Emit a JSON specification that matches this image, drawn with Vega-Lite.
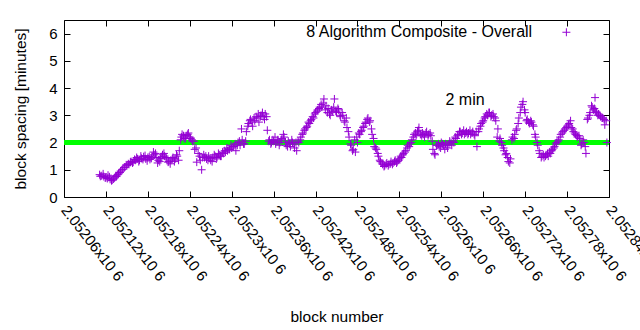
{
"$schema": "https://vega.github.io/schema/vega-lite/v6.json",
"width": 545, "height": 177,
"autosize": {"type": "none"},
"padding": {"left": 64, "top": 20, "right": 31, "bottom": 133},
"background": "white",
"config": {
  "font": "Liberation Sans",
  "view": {"stroke": "black", "strokeWidth": 1},
  "axis": {"grid": false, "domain": false, "tickColor": "black", "tickSize": -6, "tickWidth": 1, "labelColor": "black", "labelFont": "Liberation Sans", "labelFontSize": 15, "titleFont": "Liberation Sans", "titleFontSize": 15.5, "titleFontWeight": "normal", "titleColor": "black"}
},
"datasets": {"blocks": [
{"b":2052111,"v":0.82},{"b":2052112,"v":0.76},{"b":2052114,"v":0.78},{"b":2052116,"v":0.85},{"b":2052117,"v":0.75},{"b":2052119,"v":0.7},{"b":2052120,"v":0.72},{"b":2052122,"v":0.68},{"b":2052123,"v":0.8},{"b":2052125,"v":0.74},{"b":2052126,"v":0.65},{"b":2052128,"v":0.6},{"b":2052129,"v":0.62},{"b":2052131,"v":0.66},{"b":2052132,"v":0.7},{"b":2052134,"v":0.78},{"b":2052135,"v":0.75},{"b":2052137,"v":0.82},{"b":2052138,"v":0.85},{"b":2052140,"v":0.9},{"b":2052141,"v":0.95},{"b":2052143,"v":1.0},{"b":2052144,"v":1.02},{"b":2052146,"v":1.08},{"b":2052147,"v":1.1},{"b":2052149,"v":1.18},{"b":2052150,"v":1.15},{"b":2052152,"v":1.22},{"b":2052153,"v":1.2},{"b":2052155,"v":1.28},{"b":2052156,"v":1.3},{"b":2052158,"v":1.25},{"b":2052159,"v":1.28},{"b":2052161,"v":1.38},{"b":2052162,"v":1.35},{"b":2052164,"v":1.45},{"b":2052165,"v":1.4},{"b":2052167,"v":1.3},{"b":2052168,"v":1.35},{"b":2052170,"v":1.5},{"b":2052171,"v":1.42},{"b":2052173,"v":1.38},{"b":2052174,"v":1.48},{"b":2052176,"v":1.52},{"b":2052177,"v":1.4},{"b":2052179,"v":1.33},{"b":2052180,"v":1.45},{"b":2052182,"v":1.48},{"b":2052183,"v":1.38},{"b":2052185,"v":1.42},{"b":2052186,"v":1.5},{"b":2052188,"v":1.65},{"b":2052189,"v":1.55},{"b":2052191,"v":1.6},{"b":2052192,"v":1.45},{"b":2052194,"v":1.25},{"b":2052195,"v":1.35},{"b":2052197,"v":1.3},{"b":2052198,"v":1.42},{"b":2052200,"v":1.48},{"b":2052201,"v":1.55},{"b":2052203,"v":1.6},{"b":2052204,"v":1.5},{"b":2052206,"v":1.45},{"b":2052207,"v":1.4},{"b":2052209,"v":1.28},{"b":2052210,"v":1.3},{"b":2052212,"v":1.22},{"b":2052213,"v":1.35},{"b":2052215,"v":1.4},{"b":2052216,"v":1.45},{"b":2052218,"v":1.3},{"b":2052219,"v":1.4},{"b":2052221,"v":1.55},{"b":2052222,"v":1.5},{"b":2052224,"v":1.35},{"b":2052225,"v":1.7},{"b":2052227,"v":2.1},{"b":2052228,"v":2.2},{"b":2052229,"v":2.3},{"b":2052231,"v":2.25},{"b":2052232,"v":2.15},{"b":2052234,"v":2.15},{"b":2052235,"v":2.25},{"b":2052237,"v":2.3},{"b":2052238,"v":2.35},{"b":2052240,"v":2.2},{"b":2052241,"v":2.15},{"b":2052243,"v":2.1},{"b":2052244,"v":2.05},{"b":2052246,"v":2.05},{"b":2052247,"v":1.75},{"b":2052249,"v":1.8},{"b":2052250,"v":1.28},{"b":2052252,"v":1.6},{"b":2052254,"v":1.5},{"b":2052255,"v":1.35},{"b":2052257,"v":1.0},{"b":2052258,"v":1.45},{"b":2052260,"v":1.55},{"b":2052261,"v":1.45},{"b":2052263,"v":1.5},{"b":2052264,"v":1.4},{"b":2052266,"v":1.35},{"b":2052267,"v":1.5},{"b":2052269,"v":1.42},{"b":2052270,"v":1.35},{"b":2052272,"v":1.3},{"b":2052273,"v":1.45},{"b":2052275,"v":1.55},{"b":2052276,"v":1.5},{"b":2052278,"v":1.4},{"b":2052279,"v":1.45},{"b":2052281,"v":1.6},{"b":2052282,"v":1.55},{"b":2052284,"v":1.5},{"b":2052285,"v":1.5},{"b":2052287,"v":1.65},{"b":2052288,"v":1.6},{"b":2052290,"v":1.7},{"b":2052291,"v":1.65},{"b":2052293,"v":1.8},{"b":2052294,"v":1.7},{"b":2052296,"v":1.75},{"b":2052297,"v":1.75},{"b":2052299,"v":1.9},{"b":2052300,"v":1.8},{"b":2052302,"v":1.85},{"b":2052303,"v":1.85},{"b":2052305,"v":1.95},{"b":2052306,"v":1.7},{"b":2052308,"v":1.9},{"b":2052309,"v":2.0},{"b":2052311,"v":2.05},{"b":2052312,"v":1.9},{"b":2052314,"v":2.5},{"b":2052315,"v":2.1},{"b":2052317,"v":1.95},{"b":2052318,"v":1.95},{"b":2052320,"v":2.05},{"b":2052321,"v":2.4},{"b":2052323,"v":2.6},{"b":2052324,"v":2.7},{"b":2052326,"v":2.8},{"b":2052327,"v":2.85},{"b":2052329,"v":2.75},{"b":2052330,"v":2.6},{"b":2052332,"v":2.9},{"b":2052333,"v":2.8},{"b":2052335,"v":2.95},{"b":2052336,"v":2.9},{"b":2052338,"v":3.05},{"b":2052339,"v":2.75},{"b":2052341,"v":2.95},{"b":2052342,"v":3.0},{"b":2052344,"v":3.1},{"b":2052345,"v":2.95},{"b":2052347,"v":2.85},{"b":2052348,"v":3.05},{"b":2052350,"v":2.95},{"b":2052351,"v":2.45},{"b":2052353,"v":2.05},{"b":2052354,"v":2.1},{"b":2052356,"v":1.95},{"b":2052357,"v":2.0},{"b":2052359,"v":2.1},{"b":2052360,"v":2.05},{"b":2052362,"v":2.2},{"b":2052363,"v":1.95},{"b":2052365,"v":2.05},{"b":2052366,"v":2.1},{"b":2052368,"v":1.9},{"b":2052369,"v":2.0},{"b":2052371,"v":2.1},{"b":2052372,"v":2.15},{"b":2052374,"v":2.3},{"b":2052375,"v":2.2},{"b":2052377,"v":2.0},{"b":2052378,"v":1.9},{"b":2052380,"v":1.85},{"b":2052381,"v":2.05},{"b":2052383,"v":1.95},{"b":2052384,"v":1.85},{"b":2052386,"v":2.1},{"b":2052387,"v":2.0},{"b":2052389,"v":1.95},{"b":2052390,"v":1.8},{"b":2052392,"v":2.0},{"b":2052393,"v":1.7},{"b":2052395,"v":2.05},{"b":2052396,"v":2.0},{"b":2052398,"v":2.1},{"b":2052399,"v":2.2},{"b":2052401,"v":2.3},{"b":2052402,"v":2.35},{"b":2052404,"v":2.45},{"b":2052405,"v":2.5},{"b":2052407,"v":2.55},{"b":2052408,"v":2.6},{"b":2052410,"v":2.75},{"b":2052411,"v":2.7},{"b":2052413,"v":2.8},{"b":2052414,"v":2.85},{"b":2052416,"v":2.95},{"b":2052417,"v":2.9},{"b":2052419,"v":3.05},{"b":2052420,"v":3.1},{"b":2052422,"v":3.15},{"b":2052423,"v":3.2},{"b":2052425,"v":3.25},{"b":2052426,"v":3.3},{"b":2052428,"v":3.4},{"b":2052429,"v":3.3},{"b":2052431,"v":3.45},{"b":2052432,"v":3.6},{"b":2052434,"v":3.2},{"b":2052435,"v":3.35},{"b":2052437,"v":3.1},{"b":2052438,"v":3.25},{"b":2052440,"v":3.05},{"b":2052441,"v":3.0},{"b":2052443,"v":3.2},{"b":2052444,"v":3.15},{"b":2052446,"v":3.3},{"b":2052447,"v":3.6},{"b":2052449,"v":3.15},{"b":2052450,"v":3.1},{"b":2052452,"v":3.25},{"b":2052453,"v":3.2},{"b":2052455,"v":3.0},{"b":2052456,"v":2.95},{"b":2052458,"v":3.1},{"b":2052459,"v":3.0},{"b":2052461,"v":2.8},{"b":2052462,"v":2.75},{"b":2052464,"v":2.9},{"b":2052465,"v":2.55},{"b":2052467,"v":2.4},{"b":2052468,"v":2.2},{"b":2052470,"v":1.95},{"b":2052471,"v":1.9},{"b":2052473,"v":1.7},{"b":2052474,"v":1.75},{"b":2052476,"v":2.1},{"b":2052477,"v":1.65},{"b":2052479,"v":2.2},{"b":2052480,"v":2.0},{"b":2052482,"v":2.35},{"b":2052483,"v":2.3},{"b":2052485,"v":2.4},{"b":2052486,"v":2.45},{"b":2052488,"v":2.55},{"b":2052489,"v":2.6},{"b":2052491,"v":2.7},{"b":2052492,"v":2.75},{"b":2052494,"v":2.85},{"b":2052495,"v":2.9},{"b":2052497,"v":2.75},{"b":2052498,"v":2.8},{"b":2052500,"v":2.5},{"b":2052501,"v":2.3},{"b":2052503,"v":2.15},{"b":2052504,"v":1.85},{"b":2052506,"v":1.8},{"b":2052507,"v":1.75},{"b":2052509,"v":1.6},{"b":2052510,"v":1.5},{"b":2052512,"v":1.35},{"b":2052513,"v":1.3},{"b":2052515,"v":1.25},{"b":2052516,"v":1.2},{"b":2052518,"v":1.12},{"b":2052519,"v":1.15},{"b":2052521,"v":1.2},{"b":2052522,"v":1.25},{"b":2052524,"v":1.15},{"b":2052525,"v":1.2},{"b":2052527,"v":1.22},{"b":2052528,"v":1.3},{"b":2052530,"v":1.2},{"b":2052531,"v":1.25},{"b":2052533,"v":1.3},{"b":2052534,"v":1.35},{"b":2052536,"v":1.25},{"b":2052537,"v":1.3},{"b":2052539,"v":1.35},{"b":2052540,"v":1.4},{"b":2052542,"v":1.5},{"b":2052543,"v":1.45},{"b":2052545,"v":1.55},{"b":2052546,"v":1.6},{"b":2052548,"v":1.65},{"b":2052549,"v":1.7},{"b":2052551,"v":1.8},{"b":2052552,"v":1.9},{"b":2052554,"v":1.85},{"b":2052555,"v":1.95},{"b":2052557,"v":2.0},{"b":2052558,"v":2.1},{"b":2052560,"v":2.2},{"b":2052561,"v":2.3},{"b":2052563,"v":2.35},{"b":2052564,"v":2.25},{"b":2052566,"v":2.4},{"b":2052567,"v":2.45},{"b":2052568,"v":2.55},{"b":2052570,"v":2.3},{"b":2052572,"v":2.25},{"b":2052573,"v":2.35},{"b":2052575,"v":2.3},{"b":2052576,"v":2.2},{"b":2052578,"v":2.35},{"b":2052579,"v":2.4},{"b":2052581,"v":2.25},{"b":2052582,"v":2.3},{"b":2052584,"v":2.35},{"b":2052585,"v":2.25},{"b":2052587,"v":2.05},{"b":2052588,"v":1.75},{"b":2052590,"v":1.6},{"b":2052591,"v":1.55},{"b":2052593,"v":1.9},{"b":2052594,"v":1.9},{"b":2052596,"v":1.95},{"b":2052597,"v":1.85},{"b":2052599,"v":1.8},{"b":2052600,"v":2.0},{"b":2052602,"v":1.95},{"b":2052603,"v":1.9},{"b":2052605,"v":1.75},{"b":2052606,"v":1.95},{"b":2052608,"v":1.9},{"b":2052609,"v":1.8},{"b":2052611,"v":1.95},{"b":2052612,"v":2.05},{"b":2052614,"v":2.0},{"b":2052615,"v":1.9},{"b":2052617,"v":2.05},{"b":2052618,"v":2.0},{"b":2052620,"v":2.2},{"b":2052621,"v":2.15},{"b":2052623,"v":2.25},{"b":2052624,"v":2.3},{"b":2052626,"v":2.4},{"b":2052627,"v":2.4},{"b":2052629,"v":2.3},{"b":2052630,"v":2.35},{"b":2052632,"v":2.45},{"b":2052633,"v":2.3},{"b":2052635,"v":2.35},{"b":2052636,"v":2.4},{"b":2052638,"v":2.3},{"b":2052639,"v":2.35},{"b":2052641,"v":2.45},{"b":2052642,"v":2.3},{"b":2052644,"v":2.35},{"b":2052645,"v":2.4},{"b":2052647,"v":2.3},{"b":2052648,"v":2.25},{"b":2052650,"v":2.4},{"b":2052651,"v":1.85},{"b":2052653,"v":2.4},{"b":2052654,"v":2.5},{"b":2052656,"v":2.6},{"b":2052657,"v":2.7},{"b":2052659,"v":2.75},{"b":2052660,"v":2.8},{"b":2052662,"v":2.9},{"b":2052663,"v":2.95},{"b":2052665,"v":3.05},{"b":2052666,"v":3.0},{"b":2052668,"v":3.1},{"b":2052669,"v":3.1},{"b":2052671,"v":2.95},{"b":2052672,"v":3.0},{"b":2052674,"v":3.05},{"b":2052675,"v":2.95},{"b":2052677,"v":2.9},{"b":2052678,"v":2.8},{"b":2052680,"v":2.2},{"b":2052681,"v":2.5},{"b":2052683,"v":2.05},{"b":2052684,"v":2.15},{"b":2052686,"v":2.0},{"b":2052687,"v":1.9},{"b":2052689,"v":1.8},{"b":2052690,"v":1.7},{"b":2052692,"v":1.55},{"b":2052693,"v":1.6},{"b":2052695,"v":1.45},{"b":2052696,"v":1.3},{"b":2052698,"v":1.25},{"b":2052699,"v":1.4},{"b":2052701,"v":2.1},{"b":2052702,"v":2.2},{"b":2052704,"v":2.15},{"b":2052705,"v":2.3},{"b":2052707,"v":2.45},{"b":2052708,"v":2.5},{"b":2052710,"v":2.7},{"b":2052711,"v":2.9},{"b":2052713,"v":3.1},{"b":2052714,"v":3.3},{"b":2052716,"v":3.4},{"b":2052717,"v":3.5},{"b":2052719,"v":3.2},{"b":2052720,"v":3.1},{"b":2052722,"v":2.8},{"b":2052723,"v":2.85},{"b":2052725,"v":2.75},{"b":2052726,"v":2.7},{"b":2052728,"v":2.8},{"b":2052729,"v":2.75},{"b":2052731,"v":2.65},{"b":2052732,"v":2.6},{"b":2052734,"v":2.3},{"b":2052735,"v":2.2},{"b":2052737,"v":2.0},{"b":2052738,"v":1.9},{"b":2052740,"v":1.7},{"b":2052741,"v":1.6},{"b":2052743,"v":1.45},{"b":2052744,"v":1.5},{"b":2052746,"v":1.55},{"b":2052747,"v":1.45},{"b":2052749,"v":1.5},{"b":2052750,"v":1.55},{"b":2052752,"v":1.6},{"b":2052753,"v":1.5},{"b":2052755,"v":1.65},{"b":2052756,"v":1.6},{"b":2052758,"v":1.7},{"b":2052759,"v":1.75},{"b":2052761,"v":1.8},{"b":2052762,"v":1.85},{"b":2052764,"v":1.95},{"b":2052765,"v":2.0},{"b":2052767,"v":2.05},{"b":2052768,"v":2.1},{"b":2052770,"v":2.2},{"b":2052771,"v":2.3},{"b":2052773,"v":2.35},{"b":2052774,"v":2.4},{"b":2052776,"v":2.45},{"b":2052777,"v":2.5},{"b":2052779,"v":2.55},{"b":2052780,"v":2.6},{"b":2052782,"v":2.65},{"b":2052783,"v":2.7},{"b":2052785,"v":2.8},{"b":2052786,"v":2.55},{"b":2052788,"v":2.5},{"b":2052789,"v":2.4},{"b":2052791,"v":2.35},{"b":2052792,"v":2.3},{"b":2052794,"v":2.25},{"b":2052795,"v":2.2},{"b":2052797,"v":2.25},{"b":2052798,"v":2.15},{"b":2052800,"v":1.9},{"b":2052801,"v":1.95},{"b":2052803,"v":2.1},{"b":2052804,"v":2.0},{"b":2052806,"v":1.85},{"b":2052807,"v":1.6},{"b":2052809,"v":2.85},{"b":2052810,"v":2.9},{"b":2052812,"v":3.0},{"b":2052813,"v":3.1},{"b":2052815,"v":3.35},{"b":2052816,"v":3.3},{"b":2052818,"v":3.2},{"b":2052819,"v":3.25},{"b":2052820,"v":3.65},{"b":2052821,"v":3.15},{"b":2052822,"v":3.1},{"b":2052824,"v":3.0},{"b":2052825,"v":3.05},{"b":2052827,"v":3.0},{"b":2052828,"v":2.95},{"b":2052830,"v":2.9},{"b":2052831,"v":2.9},{"b":2052833,"v":2.85},{"b":2052834,"v":2.65},{"b":2052836,"v":2.8},{"b":2052837,"v":2.0}
]},
"layer": [
  {
    "data": {"values": [{}]},
    "mark": {"type": "rule", "color": "#00ff00", "strokeWidth": 5},
    "encoding": {
      "y": {"datum": 2, "type": "quantitative", "scale": {"domain": [0, 6.5], "nice": false},
            "axis": {"orient": "right", "labels": false, "title": null, "values": [0,1,2,3,4,5,6]}}
    }
  },
  {
    "data": {"name": "blocks"},
    "mark": {"type": "point", "shape": "M-1,0H1M0,-1V1", "size": 64, "strokeWidth": 1, "color": "#9400d3", "filled": false, "opacity": 1},
    "encoding": {
      "x": {"field": "b", "type": "quantitative",
            "scale": {"domain": [2052060, 2052840], "nice": false, "zero": false},
            "axis": {"orient": "bottom", "title": "block number", "titlePadding": 26,
                     "values": [2052060,2052120,2052180,2052240,2052300,2052360,2052420,2052480,2052540,2052600,2052660,2052720,2052780,2052840],
                     "labelExpr": "format(datum.value/1000000, '.6~g') + 'x10 6'",
                     "labelAngle": 52, "labelAlign": "left", "labelBaseline": "middle",
                     "labelPadding": 16, "labelOverlap": false, "labelBound": false, "labelFlush": false}},
      "y": {"field": "v", "type": "quantitative", "scale": {"domain": [0, 6.5], "nice": false},
            "axis": {"orient": "left", "title": "block spacing [minutes]", "values": [0,1,2,3,4,5,6],
                     "labelPadding": 13, "titlePadding": 20}}
    }
  },
  {
    "data": {"values": [{}]},
    "mark": {"type": "text", "text": "2 min", "align": "left", "baseline": "middle", "fontSize": 16, "font": "Liberation Sans", "color": "black"},
    "encoding": {
      "x": {"datum": 2052606, "type": "quantitative", "axis": null},
      "y": {"datum": 3.55, "type": "quantitative", "axis": null}
    }
  },
  {
    "data": {"values": [{}]},
    "mark": {"type": "text", "text": "8 Algorithm Composite - Overall", "align": "right", "baseline": "middle", "fontSize": 16, "font": "Liberation Sans", "color": "black"},
    "encoding": {
      "x": {"datum": 2052730, "type": "quantitative",
            "axis": {"orient": "top", "labels": false, "title": null,
                     "values": [2052060,2052120,2052180,2052240,2052300,2052360,2052420,2052480,2052540,2052600,2052660,2052720,2052780,2052840]}},
      "y": {"datum": 6.05, "type": "quantitative", "axis": null}
    }
  },
  {
    "data": {"values": [{}]},
    "mark": {"type": "point", "shape": "M-1,0H1M0,-1V1", "size": 64, "strokeWidth": 1, "color": "#9400d3", "filled": false, "opacity": 1},
    "encoding": {
      "x": {"datum": 2052779, "type": "quantitative", "axis": null},
      "y": {"datum": 6.05, "type": "quantitative", "axis": null}
    }
  }
],
"resolve": {"axis": {"x": "independent", "y": "independent"}}
}
